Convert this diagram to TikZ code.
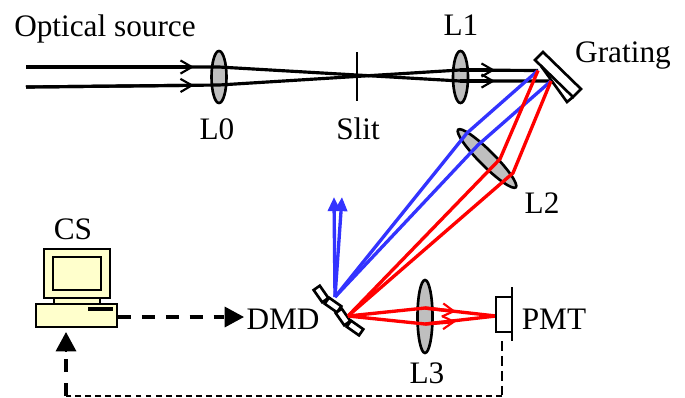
\documentclass[tikz,border=0pt]{standalone}
\usepackage{fontspec}
\setmainfont{Liberation Serif}
\usetikzlibrary{arrows.meta,shapes.geometric}
\definecolor{lensgray}{HTML}{BFBFBF}
\definecolor{csyellow}{HTML}{FFFFCC}
\definecolor{rayblue}{HTML}{3333FF}
\tikzset{
  lbl/.style={inner sep=0pt,font=\fontsize{17.8}{20}\selectfont},
  lens/.style={draw,fill=lensgray,ellipse,line width=1.5pt,inner sep=0pt,minimum width=0.3cm,minimum height=1.04cm},
  beam/.style={line width=1.8pt},
  openhead/.style={-{Straight Barb[length=6.5pt,width=7.5pt,line width=1.2pt]}},
  redray/.style={draw=red,line width=1.9pt},
  blueray/.style={draw=rayblue,line width=1.9pt},
  mirror/.style={draw,fill=white,line width=1.5pt,inner sep=0pt,minimum width=0.3cm,minimum height=0.15cm},
  pcpart/.style={draw,fill=csyellow,line width=1.5pt},
  ctrl/.style={line width=1.9pt,dash pattern=on 7.4pt off 6.2pt},
  bighead/.style={-{Triangle[length=11pt,width=11.5pt]}},
}
\begin{document}
\begin{tikzpicture}[x=0.02cm,y=-0.02cm]
\useasboundingbox (0,0) rectangle (685,397);
% optics
\node[lens] (Lzero) at (219,77) {};
\node[lens] (Lone) at (460.5,77) {};
\node[lens,minimum height=1.63cm,rotate=45] (Ltwo) at (487,158.5) {};
\node[lens,minimum height=1.46cm] (Lthree) at (425,316.5) {};
\coordinate (slittop) at (357,52);
\coordinate (slitbot) at (357,101);
\draw[line width=1.5pt] (slittop) -- (slitbot);
% grating
\coordinate (gra) at (543,52);
\coordinate (grb) at (581,89);
\coordinate (grc) at (567,102);
\coordinate (grd) at (535,60);
\coordinate (gre) at (573,97);
\coordinate (grf) at (541,66);
\draw[pcpart,fill=white] (gra) -- (grb) -- (gre) -- (grd) -- cycle;
\draw[line width=1.5pt] (grf) -- (grc) -- (gre);
% beams
\coordinate (srcup) at (26,67);
\coordinate (srcdn) at (26,87);
\coordinate (zeroup) at (219,67);
\coordinate (zerodn) at (219,85);
\coordinate (oneup) at (460,70);
\coordinate (onedn) at (460,81);
\coordinate (hitup) at (538,70.5);
\coordinate (hitdn) at (551,81);
\coordinate (headup) at (194,67);
\coordinate (headdn) at (194,85.3);
\coordinate (headonea) at (495,70);
\coordinate (headoneb) at (495,81);
\draw[beam] (srcup) -- (zeroup) -- (onedn) -- (hitdn);
\draw[beam] (srcdn) -- (zerodn) -- (oneup) -- (hitup);
\draw[beam,openhead] (srcup) -- (headup);
\draw[beam,openhead] (srcdn) -- (headdn);
\draw[beam,openhead] (oneup) -- (headonea);
\draw[beam,openhead] (onedn) -- (headoneb);
% dmd
\node[mirror,rotate=-55] (dmda) at (321,294) {};
\node[mirror,rotate=-35] (dmdb) at (333,305) {};
\node[mirror,rotate=-55] (dmdc) at (343,317) {};
\node[mirror,rotate=-35] (dmdd) at (355,328) {};
% rays
\coordinate (focb) at (335,297);
\coordinate (focr) at (348,316);
\coordinate (bluea) at (467,133);
\coordinate (blueb) at (478,145);
\coordinate (reda) at (500,159);
\coordinate (redb) at (513,173);
\coordinate (upa) at (334,197);
\coordinate (upb) at (342,197);
\draw[blueray] (hitup) -- (bluea) -- (focb);
\draw[blueray] (hitdn) -- (blueb) -- (focb);
\draw[blueray,-{Triangle[length=8pt,width=7pt]}] (focb) -- (upa);
\draw[blueray,-{Triangle[length=8pt,width=7pt]}] (focb) -- (upb);
\draw[redray] (hitup) -- (reda) -- (focr);
\draw[redray] (hitdn) -- (redb) -- (focr);
\coordinate (threeup) at (425,308);
\coordinate (threedn) at (425,324);
\coordinate (pmtin) at (496,316);
\coordinate (headthreea) at (456,311.5);
\coordinate (headthreeb) at (456,321.5);
\draw[redray] (focr) -- (threeup) -- (pmtin);
\draw[redray] (focr) -- (threedn) -- (pmtin);
\draw[redray,openhead] (threeup) -- (headthreea);
\draw[redray,openhead] (threedn) -- (headthreeb);
% pmt
\coordinate (pmtbara) at (512,287);
\coordinate (pmtbarb) at (512,341);
\draw[line width=1.5pt] (512,297) -| (496,332) -- (512,332);
\draw[line width=1.5pt] (pmtbara) -- (pmtbarb);
% computer
\draw[pcpart] (54,298) rectangle (100,304);
\node[pcpart,inner sep=0pt,minimum width=1.32cm,minimum height=0.98cm] (monitor) at (77,273.5) {};
\node[pcpart,inner sep=0pt,minimum width=0.96cm,minimum height=0.66cm] (screen) at (77,273.5) {};
\node[pcpart,inner sep=0pt,minimum width=1.62cm,minimum height=0.46cm] (base) at (76.5,315.5) {};
\fill (88,307) rectangle (113,311);
% control lines
\node[lbl] (dmd) at (283,319) {DMD};
\node[lbl] (pmt) at (554,319) {PMT};
\coordinate (ctrlout) at (118,317);
\coordinate (ctrlin) at (244,317);
\draw[ctrl] (ctrlout) -- (224,317);
\draw[bighead,line width=1.5pt] (225,317) -- (ctrlin);
\coordinate (pmtout) at (502,341);
\coordinate (pmtcorner) at (502,396);
\coordinate (pccorner) at (66,396);
\coordinate (pcin) at (66,332);
\draw[line width=1.1pt,dash pattern=on 5.5pt off 3pt] (pmtout) -- (pmtcorner);
\draw[line width=1.1pt,dash pattern=on 3.4pt off 2.3pt] (pmtcorner) -- (pccorner);
\draw[ctrl] (pccorner) -- (66,352);
\draw[bighead,line width=1.5pt] (66,351) -- (pcin);
% labels
\node[lbl] (source) at (105,29) {Optical source};
\node[lbl] (lzerotxt) at (217,129) {L0};
\node[lbl] (slit) at (358,129) {Slit};
\node[lbl] (lonetxt) at (461,25) {L1};
\node[lbl] (grating) at (623,56) {Grating};
\node[lbl] (ltwotxt) at (542,203) {L2};
\node[lbl] (cs) at (73,229) {CS};
\node[lbl] (lthreetxt) at (427,373) {L3};
\end{tikzpicture}
\end{document}
